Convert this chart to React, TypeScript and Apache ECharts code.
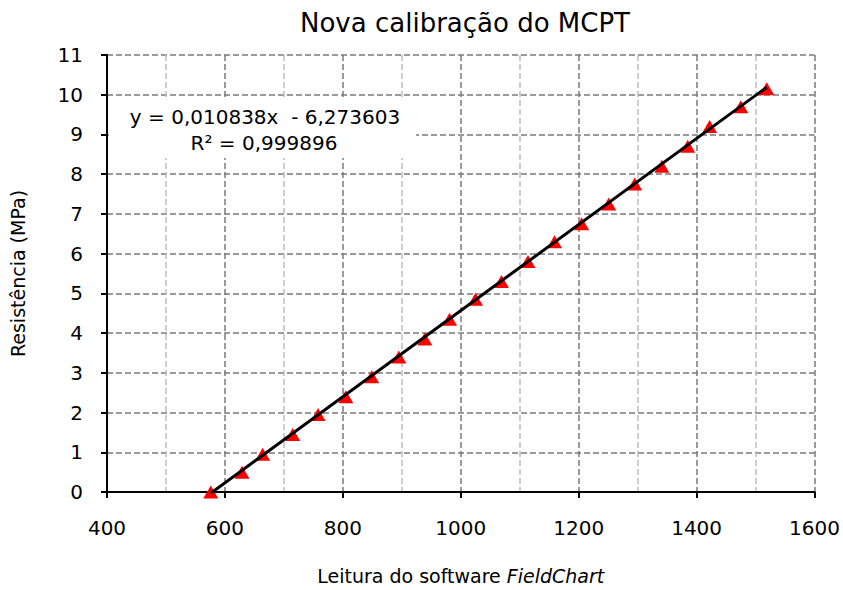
import React, { useEffect, useRef } from "react";
import * as echarts from "echarts";

const titleText = "Nova calibração do MCPT";
const xAxisTitle = "Leitura do software";
const xAxisTitleItalic = "FieldChart";
const yAxisTitle = "Resistência (MPa)";
const equationLine1 = "y = 0,010838x  - 6,273603";
const equationLine2 = "R² = 0,999896";

const readings = [576, 629, 664, 715, 758, 805, 849, 895, 939, 981, 1025, 1069, 1114, 1159, 1205, 1251, 1295, 1341, 1385, 1422, 1475, 1519];
const resistance = [0, 0.5, 0.95, 1.45, 1.95, 2.4, 2.9, 3.4, 3.85, 4.35, 4.85, 5.3, 5.8, 6.3, 6.75, 7.25, 7.75, 8.2, 8.7, 9.2, 9.7, 10.15];

const slope = 0.010838;
const intercept = -6.273603;

const FONT = "DejaVu Sans";

export default function App() {
  const ref = useRef<HTMLDivElement>(null);
  useEffect(() => {
    if (!ref.current) return;
    const chart = echarts.init(ref.current, undefined, { renderer: "svg" });
    const xMin = readings[0];
    const xMax = readings[readings.length - 1];
    const trend = [
      [xMin, slope * xMin + intercept],
      [xMax, slope * xMax + intercept],
    ];
    chart.setOption({
      animation: false,
      backgroundColor: "#ffffff",
      title: {
        text: titleText,
        left: 460,
        textAlign: "center",
        top: 5,
        textStyle: { fontFamily: FONT, fontSize: 26, fontWeight: "normal", color: "#000" },
      },
      grid: { left: 107, right: 28, top: 55, bottom: 95, containLabel: false },
      xAxis: {
        type: "value",
        min: 400,
        max: 1600,
        interval: 200,
        name: `{n|${xAxisTitle} }{i|${xAxisTitleItalic}}`,
        nameLocation: "middle",
        nameGap: 74,
        nameTextStyle: {
          rich: {
            n: { fontFamily: FONT, fontSize: 19, color: "#000" },
            i: { fontFamily: FONT, fontSize: 19, color: "#000", fontStyle: "italic" },
          },
        },
        axisLine: { show: true, onZero: false, lineStyle: { color: "#000", width: 2 } },
        axisTick: { show: true, length: 6, lineStyle: { color: "#000", width: 2 } },
        axisLabel: {
          fontFamily: FONT,
          fontSize: 20,
          color: "#000",
          margin: 26,
          formatter: (v: number) => String(v),
        },
        splitLine: { show: true, lineStyle: { color: "#7a7a7a", type: [6, 3], width: 1.5 } },
        minorTick: { show: false, splitNumber: 2 },
        minorSplitLine: { show: true, lineStyle: { color: "#bdbdbd", type: [6, 3], width: 1.5 } },
      },
      yAxis: {
        type: "value",
        min: 0,
        max: 11,
        interval: 1,
        name: yAxisTitle,
        nameLocation: "middle",
        nameGap: 80,
        nameTextStyle: { fontFamily: FONT, fontSize: 19, color: "#000" },
        axisLine: { show: true, onZero: false, lineStyle: { color: "#000", width: 2 } },
        axisTick: { show: true, length: 6, lineStyle: { color: "#000", width: 2 } },
        axisLabel: {
          fontFamily: FONT,
          fontSize: 20,
          color: "#000",
          margin: 24,
          formatter: (v: number) => String(v),
        },
        splitLine: { show: true, lineStyle: { color: "#7a7a7a", type: [6, 3], width: 1.5 } },
      },
      graphic: [
        {
          type: "rect",
          shape: { x: 109, y: 97, width: 307, height: 61 },
          style: { fill: "#ffffff" },
          z: 10,
        },
        {
          type: "text",
          x: 265,
          y: 117,
          style: {
            text: equationLine1,
            fontFamily: FONT,
            fontSize: 20,
            fill: "#000",
            textAlign: "center",
            textVerticalAlign: "middle",
          },
          z: 11,
        },
        {
          type: "text",
          x: 264,
          y: 143,
          style: {
            text: equationLine2,
            fontFamily: FONT,
            fontSize: 20,
            fill: "#000",
            textAlign: "center",
            textVerticalAlign: "middle",
          },
          z: 11,
        },
      ],
      series: [
        {
          type: "scatter",
          data: readings.map((x, i) => [x, resistance[i]]),
          symbol: "triangle",
          symbolSize: [15, 13],
          itemStyle: { color: "#ff0000", opacity: 1 },
          z: 3,
        },
        {
          type: "line",
          data: trend,
          showSymbol: false,
          symbol: "none",
          lineStyle: { color: "#000", width: 3 },
          z: 4,
        },
      ],
    });
    return () => chart.dispose();
  }, []);
  return (
    <div
      ref={ref}
      style={{ position: "fixed", left: 0, top: 0, width: 843, height: 590 }}
    />
  );
}
